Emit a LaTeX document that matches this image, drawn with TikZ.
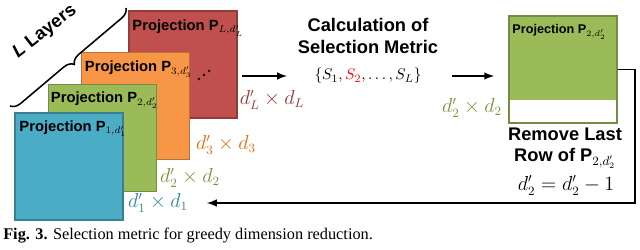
\documentclass[tikz,border=0pt]{standalone}
\usepackage{fontspec}
\setmainfont{Liberation Sans}
\newfontfamily\capfont{Liberation Serif}
\usepackage{tikz}
\usetikzlibrary{arrows, positioning, calc, decorations.pathreplacing}

\definecolor{layerblue}{HTML}{4BACC6}
\definecolor{layergreen}{HTML}{9BBB59}
\definecolor{layerorange}{HTML}{F79646}
\definecolor{layerred}{HTML}{C0504D}
\definecolor{labblue}{HTML}{31849B}
\definecolor{labgreen}{HTML}{76923C}
\definecolor{laborange}{HTML}{E46C0A}
\definecolor{labred}{HTML}{953735}

\begin{document}
\begin{tikzpicture}[%
  x=0.025cm, y=-0.025cm,%
  layer/.style={rectangle, draw=#1!75!black, fill=#1, line width=1.1pt, minimum width=2.7cm, minimum height=2.675cm, inner sep=0pt},%
  layertext/.style={anchor=north west, inner sep=0pt, font=\fontsize{10.5}{12.5}\selectfont\bfseries},%
  dims/.style={text=#1, font=\fontsize{13.5}{15}\selectfont},%
  heading/.style={align=center, font=\fontsize{13}{15.5}\selectfont\bfseries},%
  arrow/.style={->, >=latex, line width=1.4pt, draw=black}%
]
  \useasboundingbox (0,0) rectangle (640,250);

  % stack of layers, back to front
  \node[layer=layerred] (pL) at (183,64.5) {};
  \node[layertext] (tL) at ($(pL.north west)+(4,9)$) {Projection $\mathbf{P}_{L,d'_L}$};
  \foreach \px/\py in {199/79, 204/75, 209/71}
    \fill (\px,\py) circle (0.9pt);
  \node[layer=layerorange] (p3) at (135.5,106) {};
  \node[layertext] (t3) at ($(p3.north west)+(4,9)$) {Projection $\mathbf{P}_{3,d'_3}$};
  \node[layer=layergreen] (p2) at (102.5,138) {};
  \node[layertext] (t2) at ($(p2.north west)+(3,8)$) {Projection $\mathbf{P}_{2,d'_2}$};
  \node[layer=layerblue] (p1) at (69,166.5) {};
  \node[layertext] (t1) at ($(p1.north west)+(5,8)$) {Projection $\mathbf{P}_{1,d'_1}$};

  % brace over the stack
  \coordinate (braceA) at (10,106);
  \coordinate (braceB) at (126,8);
  \draw[decorate, decoration={brace, amplitude=7pt}, line width=1.1pt] (braceB) -- (braceA);
  \node[rotate=38, font=\fontsize{13}{15}\selectfont\bfseries] (layers) at (45,32) {\textit{L} Layers};

  % sizes
  \node[dims=labred] (dL) at (272,100) {$d'_L \times d_L$};
  \node[dims=laborange] (d3) at (226,145) {$d'_3 \times d_3$};
  \node[dims=labgreen] (d2) at (190,178) {$d'_2 \times d_2$};
  \node[dims=labblue] (d1) at (158,203) {$d'_1 \times d_1$};

  % selection metric
  \node[heading] (calc) at (368,36) {Calculation of\\Selection Metric};
  \node[font=\fontsize{11}{13}\selectfont] (set) at (368,76) {$\{S_1, {\color{red}S_2}, \dots, S_L\}$};

  % reduced projection
  \node[layer=layergreen, fill=white, path picture={\fill[layergreen] (path picture bounding box.north west) rectangle ($(path picture bounding box.south east)+(0,-23)$);}] (R) at (563,69.5) {};
  \node[layertext, font=\fontsize{9}{11}\selectfont\bfseries] (tR) at ($(R.north west)+(4,9)$) {Projection $\mathbf{P}_{2,d'_2}$};
  \node[dims=labgreen] (d2r) at (472,108) {$d'_2 \times d_2$};
  \node[heading] (remove) at (565,148) {Remove Last\\Row of $\mathbf{P}_{2,d'_2}$};
  \node[dims=black] (upd) at (566,185.5) {$d'_2 = d'_2 - 1$};

  \draw[arrow, shorten <=3pt, shorten >=16pt] (pL.east |- set.west) -- (set.west);
  \draw[arrow, shorten <=18pt, shorten >=10pt] (set.east) -- (R.west |- set.east);
  \draw[arrow, shorten >=10pt] (R.east) -- ++(17,0) |- (d1.east);

  \node[anchor=west, inner sep=0pt, font=\capfont\fontsize{11.6}{14}\selectfont] (caption) at (3,236) {\textbf{Fig. 3.} Selection metric for greedy dimension reduction.};
\end{tikzpicture}
\end{document}
